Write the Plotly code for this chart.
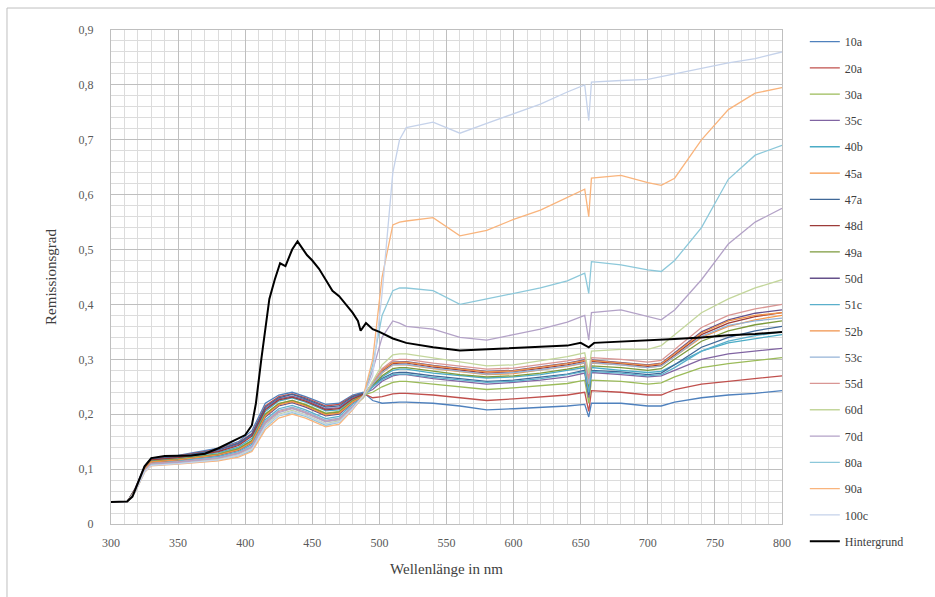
import plotly.graph_objects as go

# Wavelength grid (nm) of the sample spectra
W_NM = [300, 312, 318, 325, 330, 350, 380, 395, 405, 415, 425, 435, 445, 460, 470, 480, 488,
        495, 502, 510, 515, 520, 540, 560, 580, 600, 620, 640, 653, 656, 658, 680, 700, 710, 720, 740, 760, 780, 800]

S_10A = [0.04, 0.04, 0.065, 0.105, 0.12, 0.125, 0.138, 0.15, 0.17, 0.22, 0.235, 0.24, 0.232, 0.218, 0.22, 0.235, 0.24,
         0.225, 0.22, 0.222, 0.222, 0.222, 0.22, 0.215, 0.208, 0.21, 0.212, 0.215, 0.218, 0.195, 0.22, 0.22, 0.215, 0.215, 0.222, 0.23, 0.235, 0.238, 0.243]
S_20A = [0.04, 0.04, 0.064, 0.104, 0.119, 0.124, 0.136, 0.148, 0.165, 0.215, 0.232, 0.237, 0.23, 0.215, 0.218, 0.233, 0.238,
         0.23, 0.232, 0.237, 0.238, 0.238, 0.235, 0.23, 0.225, 0.228, 0.232, 0.235, 0.24, 0.205, 0.243, 0.24, 0.235, 0.235, 0.245, 0.255, 0.26, 0.265, 0.27]
S_30A = [0.04, 0.04, 0.062, 0.1, 0.114, 0.118, 0.128, 0.138, 0.152, 0.2, 0.22, 0.225, 0.218, 0.202, 0.205, 0.225, 0.235,
         0.24, 0.25, 0.258, 0.26, 0.26, 0.255, 0.25, 0.245, 0.248, 0.252, 0.256, 0.262, 0.22, 0.262, 0.26, 0.255, 0.257, 0.268, 0.285, 0.292, 0.298, 0.303]
S_35C = [0.04, 0.04, 0.063, 0.102, 0.117, 0.122, 0.133, 0.145, 0.162, 0.21, 0.228, 0.233, 0.226, 0.21, 0.212, 0.23, 0.237,
         0.245, 0.26, 0.27, 0.272, 0.272, 0.265, 0.26, 0.255, 0.258, 0.262, 0.268, 0.275, 0.23, 0.276, 0.272, 0.268, 0.27, 0.28, 0.3, 0.31, 0.315, 0.32]
S_40B = [0.04, 0.04, 0.062, 0.1, 0.115, 0.12, 0.13, 0.14, 0.156, 0.205, 0.224, 0.23, 0.222, 0.206, 0.208, 0.227, 0.236,
         0.25, 0.268, 0.28, 0.282, 0.282, 0.275, 0.27, 0.266, 0.268, 0.272, 0.28, 0.285, 0.24, 0.285, 0.28, 0.276, 0.278, 0.29, 0.315, 0.33, 0.338, 0.345]
S_45A = [0.04, 0.04, 0.061, 0.099, 0.113, 0.117, 0.126, 0.136, 0.15, 0.198, 0.218, 0.224, 0.216, 0.2, 0.203, 0.223, 0.234,
         0.255, 0.275, 0.29, 0.29, 0.29, 0.283, 0.277, 0.272, 0.274, 0.28, 0.287, 0.293, 0.25, 0.293, 0.29, 0.285, 0.288, 0.305, 0.34, 0.36, 0.372, 0.38]
S_47A = [0.04, 0.04, 0.063, 0.103, 0.118, 0.123, 0.135, 0.147, 0.164, 0.213, 0.23, 0.236, 0.228, 0.213, 0.215, 0.232, 0.238,
         0.25, 0.265, 0.275, 0.276, 0.276, 0.27, 0.265, 0.26, 0.262, 0.267, 0.273, 0.28, 0.235, 0.28, 0.277, 0.272, 0.275, 0.29, 0.322, 0.34, 0.352, 0.36]
S_48D = [0.04, 0.04, 0.063, 0.102, 0.117, 0.121, 0.132, 0.143, 0.16, 0.208, 0.226, 0.231, 0.224, 0.208, 0.21, 0.228, 0.236,
         0.255, 0.278, 0.292, 0.293, 0.293, 0.286, 0.28, 0.275, 0.277, 0.283, 0.29, 0.296, 0.255, 0.296, 0.292, 0.287, 0.29, 0.308, 0.345, 0.366, 0.378, 0.385]
S_49A = [0.04, 0.04, 0.062, 0.1, 0.114, 0.118, 0.127, 0.137, 0.152, 0.2, 0.219, 0.225, 0.217, 0.201, 0.204, 0.224, 0.234,
         0.252, 0.27, 0.283, 0.285, 0.285, 0.278, 0.272, 0.268, 0.27, 0.275, 0.282, 0.288, 0.245, 0.288, 0.285, 0.28, 0.283, 0.3, 0.333, 0.352, 0.363, 0.37]
S_50D = [0.04, 0.04, 0.061, 0.099, 0.112, 0.116, 0.125, 0.134, 0.148, 0.195, 0.215, 0.221, 0.213, 0.197, 0.2, 0.221, 0.233,
         0.256, 0.28, 0.295, 0.296, 0.296, 0.289, 0.283, 0.278, 0.28, 0.286, 0.293, 0.299, 0.26, 0.299, 0.295, 0.29, 0.293, 0.312, 0.35, 0.372, 0.384, 0.39]
S_51C = [0.04, 0.04, 0.06, 0.098, 0.111, 0.115, 0.123, 0.132, 0.145, 0.19, 0.21, 0.216, 0.208, 0.192, 0.196, 0.218, 0.232,
         0.25, 0.263, 0.272, 0.273, 0.273, 0.267, 0.262, 0.258, 0.26, 0.265, 0.272, 0.278, 0.24, 0.278, 0.275, 0.27, 0.272, 0.285, 0.315, 0.333, 0.343, 0.35]
S_52B = [0.04, 0.04, 0.061, 0.099, 0.113, 0.117, 0.126, 0.135, 0.149, 0.197, 0.217, 0.223, 0.215, 0.199, 0.202, 0.222, 0.233,
         0.257, 0.28, 0.294, 0.295, 0.295, 0.288, 0.282, 0.277, 0.279, 0.285, 0.292, 0.298, 0.255, 0.298, 0.294, 0.289, 0.292, 0.31, 0.348, 0.37, 0.38, 0.385]
S_53C = [0.04, 0.04, 0.06, 0.097, 0.11, 0.113, 0.121, 0.13, 0.142, 0.187, 0.207, 0.213, 0.205, 0.189, 0.193, 0.215, 0.231,
         0.255, 0.276, 0.29, 0.291, 0.291, 0.284, 0.278, 0.273, 0.276, 0.281, 0.288, 0.294, 0.255, 0.294, 0.29, 0.285, 0.288, 0.305, 0.342, 0.362, 0.37, 0.375]
S_55D = [0.04, 0.04, 0.06, 0.097, 0.11, 0.113, 0.12, 0.129, 0.14, 0.185, 0.205, 0.211, 0.203, 0.187, 0.191, 0.214, 0.23,
         0.258, 0.283, 0.298, 0.3, 0.3, 0.293, 0.287, 0.282, 0.284, 0.29, 0.297, 0.303, 0.265, 0.303, 0.3, 0.295, 0.298, 0.318, 0.358, 0.38, 0.392, 0.4]
S_60D = [0.04, 0.04, 0.059, 0.096, 0.108, 0.111, 0.118, 0.126, 0.137, 0.18, 0.2, 0.207, 0.199, 0.183, 0.188, 0.212, 0.23,
         0.26, 0.29, 0.308, 0.31, 0.31, 0.303, 0.296, 0.288, 0.29, 0.297, 0.305, 0.312, 0.275, 0.315, 0.318, 0.318, 0.325, 0.345, 0.385, 0.41, 0.43, 0.445]
S_70D = [0.04, 0.04, 0.06, 0.097, 0.109, 0.112, 0.12, 0.128, 0.14, 0.183, 0.203, 0.21, 0.202, 0.186, 0.19, 0.213, 0.232,
         0.28, 0.34, 0.37, 0.366, 0.36, 0.355, 0.34, 0.335, 0.345, 0.355, 0.368, 0.38, 0.335, 0.385, 0.39, 0.378, 0.372, 0.39, 0.445, 0.51, 0.55, 0.575]
S_80A = [0.04, 0.04, 0.059, 0.095, 0.107, 0.11, 0.116, 0.124, 0.134, 0.176, 0.197, 0.203, 0.196, 0.18, 0.185, 0.21, 0.232,
         0.29, 0.38, 0.425, 0.43, 0.43, 0.425, 0.4, 0.41, 0.42, 0.43, 0.443, 0.457, 0.42, 0.478, 0.472, 0.463, 0.46, 0.48, 0.54, 0.628, 0.672, 0.69]
S_90A = [0.04, 0.04, 0.058, 0.094, 0.106, 0.109, 0.115, 0.122, 0.132, 0.172, 0.193, 0.2, 0.193, 0.177, 0.182, 0.208, 0.233,
         0.3, 0.45, 0.545, 0.55, 0.552, 0.558, 0.525, 0.535, 0.555, 0.572, 0.595, 0.61, 0.56, 0.63, 0.635, 0.622, 0.617, 0.63, 0.70, 0.755, 0.785, 0.795]
S_100C = [0.04, 0.04, 0.058, 0.095, 0.107, 0.11, 0.117, 0.125, 0.136, 0.178, 0.198, 0.205, 0.198, 0.182, 0.186, 0.21, 0.234,
          0.27, 0.42, 0.64, 0.70, 0.722, 0.732, 0.712, 0.73, 0.748, 0.765, 0.787, 0.8, 0.735, 0.805, 0.808, 0.81, 0.815, 0.82, 0.83, 0.84, 0.848, 0.86]

# Background (Hintergrund) spectrum
W_BG = [300, 312, 316, 320, 325, 330, 340, 360, 370, 380, 390, 395, 400, 405, 408, 412, 418, 422, 426, 430, 435,
        439, 442, 446, 450, 455, 460, 465, 470, 475, 480, 484, 486, 490, 495, 500, 510, 520, 540, 560, 580, 600,
        620, 640, 650, 656, 660, 680, 700, 720, 740, 750, 760, 780, 800]
S_BG = [0.04, 0.041, 0.05, 0.075, 0.105, 0.12, 0.124, 0.125, 0.128, 0.138, 0.15, 0.155, 0.162, 0.18, 0.22, 0.3,
        0.41, 0.445, 0.475, 0.47, 0.5, 0.515, 0.505, 0.49, 0.48, 0.465, 0.445, 0.425, 0.415, 0.4, 0.385, 0.37,
        0.352, 0.366, 0.355, 0.35, 0.338, 0.33, 0.322, 0.316, 0.318, 0.32, 0.322, 0.325, 0.33, 0.322, 0.33, 0.332,
        0.335, 0.337, 0.34, 0.342, 0.344, 0.346, 0.35]

NAMES = ["10a", "20a", "30a", "35c", "40b", "45a", "47a", "48d", "49a", "50d",
         "51c", "52b", "53c", "55d", "60d", "70d", "80a", "90a", "100c"]
SERIES = [S_10A, S_20A, S_30A, S_35C, S_40B, S_45A, S_47A, S_48D, S_49A, S_50D,
          S_51C, S_52B, S_53C, S_55D, S_60D, S_70D, S_80A, S_90A, S_100C]
COLORS = ["#4F81BD", "#C0504D", "#9BBB59", "#8064A2", "#4BACC6", "#F79646",
          "#3F6797", "#9D3B38", "#7D9A3C", "#65508A", "#5AAFCB", "#F0924A",
          "#95B3D7", "#D99694", "#C3D69B", "#B3A2C7", "#8CC8DA", "#F9B47C", "#C5D2EA"]

fig = go.Figure()
for name, vals, col in zip(NAMES, SERIES, COLORS):
    fig.add_trace(go.Scatter(x=W_NM, y=vals, mode="lines", name=name, legendgroup=name,
                             line=dict(color=col, width=1.3)))
fig.add_trace(go.Scatter(x=W_BG, y=S_BG, mode="lines", name="Hintergrund", legendgroup="bg",
                         line=dict(color="#000000", width=2)))

FONT = "Liberation Serif, Times New Roman, serif"
fig.update_layout(
    width=935, height=597,
    margin=dict(l=111, r=153, t=30, b=73),
    paper_bgcolor="white", plot_bgcolor="white",
    separators=",.",
    font=dict(family=FONT, size=12, color="#595959"),
    showlegend=True,
    legend=dict(x=1.034, y=1.006, xanchor="left", yanchor="top", maxheight=580,
                font=dict(family=FONT, size=12, color="#404040"),
                tracegroupgap=7.3, itemwidth=30, bgcolor="rgba(0,0,0,0)"),
    xaxis=dict(range=[300, 800], tick0=300, dtick=50, showgrid=True, gridcolor="#BFBFBF", gridwidth=1,
               minor=dict(dtick=10, showgrid=True, gridcolor="#DCDCDC", gridwidth=1),
               showline=True, linecolor="#BFBFBF", mirror=True, zeroline=False,
               ticks="outside", ticklen=8, tickcolor="rgba(0,0,0,0)",
               tickfont=dict(family=FONT, size=12, color="#595959"),
               title=dict(text="Wellenlänge in nm", font=dict(family=FONT, size=15, color="#404040"), standoff=14)),
    yaxis=dict(range=[0, 0.9], tick0=0, dtick=0.1, showgrid=True, gridcolor="#BFBFBF", gridwidth=1,
               minor=dict(dtick=0.02, showgrid=True, gridcolor="#DCDCDC", gridwidth=1),
               showline=True, linecolor="#BFBFBF", mirror=True, zeroline=False,
               ticks="outside", ticklen=14, tickcolor="rgba(0,0,0,0)",
               tickfont=dict(family=FONT, size=12, color="#595959"),
               title=dict(text="Remissionsgrad", font=dict(family=FONT, size=15, color="#404040"), standoff=18)),
)
# chart-area border (left and top edges visible in the reference)
fig.add_shape(type="line", xref="paper", yref="paper", x0=-0.155, x1=-0.155, y0=-0.16, y1=1.0445,
              line=dict(color="#BFBFBF", width=1))
fig.add_shape(type="line", xref="paper", yref="paper", x0=-0.155, x1=1.25, y0=1.0445, y1=1.0445,
              line=dict(color="#BFBFBF", width=1))

fig.write_html("out.html")
